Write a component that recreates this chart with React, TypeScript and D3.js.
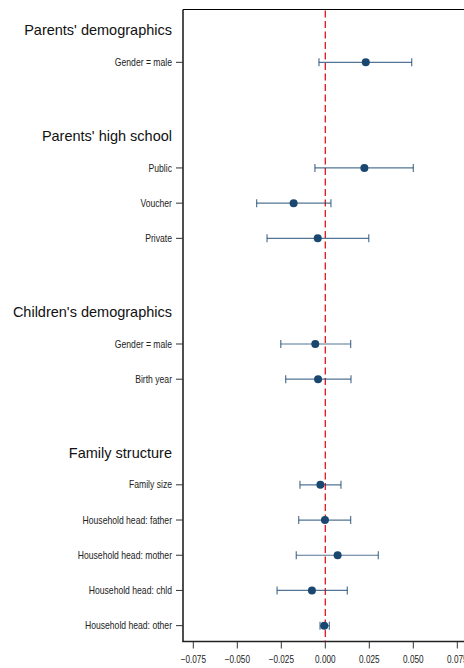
import React from "react";
import * as d3 from "d3";

const headings = ["Parents' demographics", "Parents' high school", "Children's demographics", "Family structure"];
const headingSlots = [-1, 2, 7, 11];

const labels = [
  "Gender = male", "Public", "Voucher", "Private",
  "Gender = male", "Birth year",
  "Family size", "Household head: father", "Household head: mother", "Household head: chld", "Household head: other",
];
const slots = [0, 3, 4, 5, 8, 9, 12, 13, 14, 15, 16];
const estimates = [0.0230, 0.0222, -0.0180, -0.0043, -0.0057, -0.0041, -0.0028, -0.0002, 0.0070, -0.0076, -0.0006];
const lower = [-0.0036, -0.0059, -0.0390, -0.0331, -0.0253, -0.0225, -0.0144, -0.0151, -0.0165, -0.0274, -0.0030];
const upper = [0.0491, 0.0500, 0.0032, 0.0247, 0.0144, 0.0146, 0.0089, 0.0144, 0.0301, 0.0125, 0.0023];
const xTicks = [-0.075, -0.05, -0.025, 0, 0.025, 0.05, 0.075];

const W = 464, H = 668;
const left = 183, top = 9.5, bottom = 641.5;
const sans = "'Liberation Sans', Arial, sans-serif";
const squeeze = 0.82;

export default function App() {
  const x = d3.scaleLinear().domain([-0.075, 0.075]).range([193.3, 457.3]);
  const y = d3.scaleLinear().domain([-1.5, 16.45]).range([top, bottom]);
  const fmt = d3.format(".3f");
  const navy = "#1a476f";
  return (
    <svg width={W} height={H} style={{ position: "absolute", left: 0, top: 0, background: "#fff" }}>
      <rect x={0} y={0} width={W} height={H} fill="#fff" />
      <line x1={left} x2={W} y1={top} y2={top} stroke="#000" strokeWidth={1} />
      <line x1={left} x2={left} y1={top} y2={bottom} stroke="#222" strokeWidth={1.6} />
      <line x1={left - 0.8} x2={W} y1={bottom} y2={bottom} stroke="#222" strokeWidth={1.6} />
      <line x1={x(0)} x2={x(0)} y1={top + 1} y2={bottom} stroke="#e0141e" strokeWidth={1.3} strokeDasharray="7,3.5" />
      {xTicks.map((t, i) => (
        <g key={i}>
          <line x1={x(t)} x2={x(t)} y1={bottom} y2={bottom + 7} stroke="#333" strokeWidth={1} />
          <text transform={`translate(${x(t)},663) scale(${squeeze},1)`} textAnchor="middle" fontFamily={sans} fontSize={10} fill="#222">
            {fmt(t)}
          </text>
        </g>
      ))}
      {headings.map((h, i) => (
        <text key={i} x={172} y={y(headingSlots[i]) + 8.2} textAnchor="end" fontFamily={sans} fontSize={14.5} fill="#111">
          {h}
        </text>
      ))}
      {labels.map((l, i) => {
        const yy = y(slots[i]);
        return (
          <g key={i}>
            <line x1={left - 7} x2={left} y1={yy} y2={yy} stroke="#333" strokeWidth={1} />
            <text transform={`translate(172,${yy + 3.6}) scale(${squeeze},1)`} textAnchor="end" fontFamily={sans} fontSize={10.5} fill="#222">
              {l}
            </text>
            <line x1={x(lower[i])} x2={x(upper[i])} y1={yy} y2={yy} stroke={navy} strokeOpacity={0.75} strokeWidth={1.2} />
            <line x1={x(lower[i])} x2={x(lower[i])} y1={yy - 4} y2={yy + 4} stroke={navy} strokeOpacity={0.75} strokeWidth={1.2} />
            <line x1={x(upper[i])} x2={x(upper[i])} y1={yy - 4} y2={yy + 4} stroke={navy} strokeOpacity={0.75} strokeWidth={1.2} />
            <circle cx={x(estimates[i])} cy={yy} r={4} fill={navy} />
          </g>
        );
      })}
    </svg>
  );
}
